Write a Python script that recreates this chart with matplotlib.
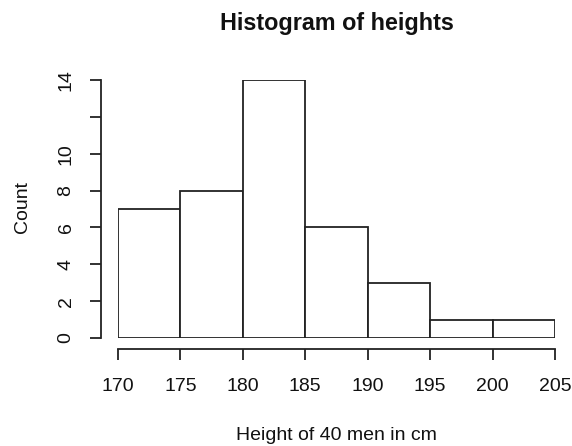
import matplotlib
matplotlib.use("Agg")
import matplotlib.pyplot as plt

bin_edges = [170, 175, 180, 185, 190, 195, 200, 205]
counts = [7, 8, 14, 6, 3, 1, 1]
y_ticks = [0, 2, 4, 6, 8, 10, 12, 14]
y_tick_labels = ["0", "2", "4", "6", "8", "10", "", "14"]
x_ticks = [170, 175, 180, 185, 190, 195, 200, 205]

plt.rcParams['font.family'] = ['Liberation Sans', 'DejaVu Sans']
W, H = 572, 446
fig = plt.figure(figsize=(W / 100, H / 100), dpi=100)
x0, x1 = 118, 555
ytop, ybot = 80, 338
ax = fig.add_axes([x0 / W, (H - ybot) / H, (x1 - x0) / W, (ybot - ytop) / H])

lc = '#222222'
lw = 1.3
fs = 14
widths = [bin_edges[i + 1] - bin_edges[i] for i in range(len(counts))]
ax.bar(bin_edges[:-1], counts, width=widths, align='edge', color='white',
       edgecolor=lc, linewidth=lw)

ax.set_xlim(bin_edges[0], bin_edges[-1])
ax.set_ylim(0, 14)
for s in ['top', 'right']:
    ax.spines[s].set_visible(False)
ax.spines['left'].set_position(('outward', 17 * 0.72))
ax.spines['bottom'].set_position(('outward', 11 * 0.72))
ax.spines['left'].set_bounds(0, 14)
ax.spines['bottom'].set_bounds(170, 205)
for s in ['left', 'bottom']:
    ax.spines[s].set_color(lc)
    ax.spines[s].set_linewidth(lw)

ax.set_yticks(y_ticks)
ax.set_yticklabels(y_tick_labels, rotation=90, va='center')
ax.set_xticks(x_ticks)
ax.set_xticklabels([str(v) for v in x_ticks])
ax.tick_params(axis='both', direction='out', length=8, width=lw, color=lc,
               labelsize=fs, labelcolor='#111111')
ax.tick_params(axis='y', pad=11)
ax.tick_params(axis='x', pad=13)

cx = (x0 + x1) / 2 / W
fig.text(cx, 1 - 30 / H, "Histogram of heights", ha='center', va='baseline',
         fontsize=16.8, fontweight='bold', color='#111111')
fig.text(cx, 1 - 440 / H, "Height of 40 men in cm", ha='center', va='baseline',
         fontsize=fs, color='#111111')
fig.text(22 / W, 1 - 207 / H, "Count", ha='center', va='center', rotation=90,
         fontsize=fs, color='#111111')

fig.savefig("out.png", dpi=100)
